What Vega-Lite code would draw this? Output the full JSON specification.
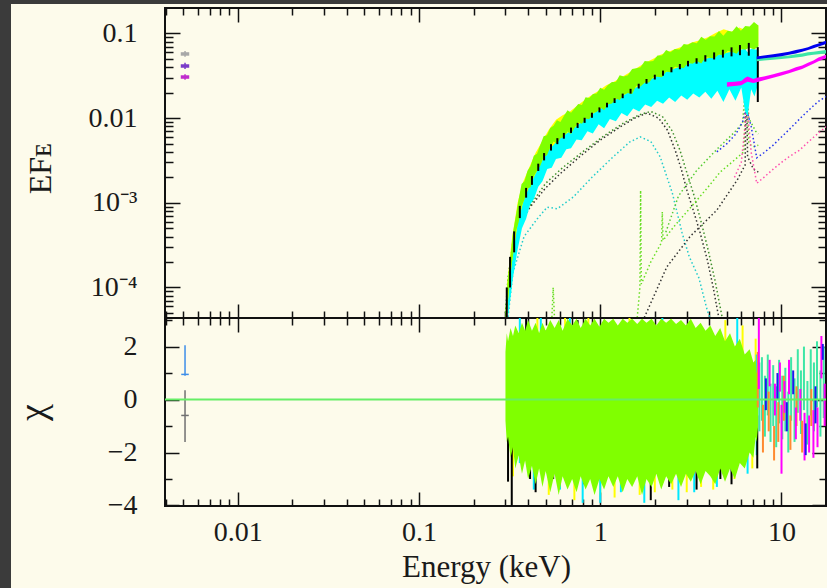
{
"$schema": "https://vega.github.io/schema/vega-lite/v6.json",
"padding": 0,
"background": "#fdfbeb",
"autosize": {"type": "pad"},
"datasets": {
"mA": [{"e":0.30,"y":0.00004},{"e":0.31,"y":0.00011},{"e":0.33,"y":0.0003},{"e":0.36,"y":0.00055},{"e":0.41,"y":0.00089},{"e":0.5,"y":0.0015},{"e":0.6,"y":0.0022},{"e":0.77,"y":0.0035},{"e":1.0,"y":0.0055},{"e":1.29,"y":0.0079},{"e":1.55,"y":0.01},{"e":1.81,"y":0.0115},{"e":2.1,"y":0.0100},{"e":2.35,"y":0.0072},{"e":2.59,"y":0.0042},{"e":2.8,"y":0.0025},{"e":3.01,"y":0.0014},{"e":3.3,"y":0.00075},{"e":3.55,"y":0.00045},{"e":3.9,"y":0.00021},{"e":4.2,"y":0.0001},{"e":4.5,"y":0.000045}],
"mC": [{"e":0.31,"y":0.000045},{"e":0.33,"y":0.00015},{"e":0.38,"y":0.0004},{"e":0.45,"y":0.00065},{"e":0.51,"y":0.00089},{"e":0.58,"y":0.00085},{"e":0.71,"y":0.00117},{"e":0.9,"y":0.002},{"e":1.18,"y":0.0035},{"e":1.45,"y":0.0052},{"e":1.66,"y":0.006},{"e":1.9,"y":0.0053},{"e":2.14,"y":0.0035},{"e":2.5,"y":0.0013},{"e":2.83,"y":0.00044},{"e":3.1,"y":0.00023},{"e":3.5,"y":0.00013},{"e":3.9,"y":0.000053},{"e":4.1,"y":0.00004}],
"mods": [
{"s":"Ag","e":0.30,"y":0.00005},{"s":"Ag","e":0.31,"y":0.00013},{"s":"Ag","e":0.33,"y":0.00035},{"s":"Ag","e":0.37,"y":0.00065},{"s":"Ag","e":0.42,"y":0.001},{"s":"Ag","e":0.5,"y":0.0017},{"s":"Ag","e":0.62,"y":0.0026},{"s":"Ag","e":0.8,"y":0.004},{"s":"Ag","e":1.05,"y":0.0062},{"s":"Ag","e":1.35,"y":0.0088},{"s":"Ag","e":1.65,"y":0.011},{"s":"Ag","e":1.9,"y":0.012},{"s":"Ag","e":2.2,"y":0.0105},{"s":"Ag","e":2.5,"y":0.007},{"s":"Ag","e":2.75,"y":0.0042},{"s":"Ag","e":3.0,"y":0.0023},{"s":"Ag","e":3.3,"y":0.0012},{"s":"Ag","e":3.6,"y":0.0006},{"s":"Ag","e":3.95,"y":0.00027},{"s":"Ag","e":4.3,"y":0.00012},{"s":"Ag","e":4.7,"y":0.000045},
{"s":"Ph","e":1.6,"y":0.000044},{"s":"Ph","e":1.655,"y":0.0001},{"s":"Ph","e":1.67,"y":0.0014},{"s":"Ph","e":1.685,"y":0.00011},{"s":"Ph","e":1.9,"y":0.0002},{"s":"Ph","e":2.18,"y":0.00034},{"s":"Ph","e":2.2,"y":0.00078},{"s":"Ph","e":2.22,"y":0.00036},{"s":"Ph","e":2.6,"y":0.00055},{"s":"Ph","e":3.25,"y":0.00095},{"s":"Ph","e":4.0,"y":0.0016},{"s":"Ph","e":4.58,"y":0.0023},{"s":"Ph","e":5.5,"y":0.0032},{"s":"Ph","e":6.2,"y":0.004},{"s":"Ph","e":6.4,"y":0.03},{"s":"Ph","e":6.6,"y":0.005},{"s":"Ph","e":7.0,"y":0.0046},{"s":"Ph","e":7.45,"y":0.0048},
{"s":"Pl","e":1.75,"y":0.000044},{"s":"Pl","e":2.33,"y":0.000175},{"s":"Pl","e":3.13,"y":0.0004},{"s":"Pl","e":4.4,"y":0.00082},{"s":"Pl","e":5.7,"y":0.00186},{"s":"Pl","e":6.3,"y":0.0028},{"s":"Pl","e":6.4,"y":0.028},{"s":"Pl","e":6.5,"y":0.0035},{"s":"Pl","e":7.0,"y":0.0025},{"s":"Pl","e":7.45,"y":0.0023},
{"s":"Pm","e":2.3,"y":0.00045},{"s":"Pm","e":2.7,"y":0.0012},{"s":"Pm","e":3.4,"y":0.0024},{"s":"Pm","e":4.5,"y":0.0045},{"s":"Pm","e":5.5,"y":0.0068},{"s":"Pm","e":6.1,"y":0.0088},{"s":"Pm","e":6.4,"y":0.03},{"s":"Pm","e":6.6,"y":0.01},{"s":"Pm","e":7.2,"y":0.007},{"s":"Pm","e":7.45,"y":0.0065},
{"s":"sp","e":0.54,"y":0.00004},{"s":"sp","e":0.55,"y":0.0001},{"s":"sp","e":0.56,"y":0.00004},
{"s":"B","e":4.4,"y":0.004},{"s":"B","e":5.0,"y":0.005},{"s":"B","e":5.6,"y":0.0065},{"s":"B","e":6.1,"y":0.009},{"s":"B","e":6.4,"y":0.013},{"s":"B","e":6.8,"y":0.008},{"s":"B","e":7.3,"y":0.0034},{"s":"B","e":8,"y":0.0039},{"s":"B","e":9,"y":0.0048},{"s":"B","e":10,"y":0.006},{"s":"B","e":11,"y":0.0073},{"s":"B","e":12,"y":0.0088},{"s":"B","e":13,"y":0.0105},{"s":"B","e":14,"y":0.0122},{"s":"B","e":15,"y":0.014},{"s":"B","e":16,"y":0.0158},{"s":"B","e":17.6,"y":0.018},
{"s":"M","e":5.5,"y":0.002},{"s":"M","e":6.0,"y":0.003},{"s":"M","e":6.3,"y":0.008},{"s":"M","e":6.4,"y":0.03},{"s":"M","e":6.5,"y":0.012},{"s":"M","e":6.8,"y":0.004},{"s":"M","e":7.3,"y":0.0017},{"s":"M","e":8,"y":0.002},{"s":"M","e":9,"y":0.0025},{"s":"M","e":10,"y":0.003},{"s":"M","e":11,"y":0.0035},{"s":"M","e":12.6,"y":0.0042},{"s":"M","e":14,"y":0.0052},{"s":"M","e":15.5,"y":0.0063},{"s":"M","e":17.6,"y":0.0079}],
"cT": [{"e":0.31,"y":0.000044,"y2":0.00009},{"e":0.33,"y":0.00013,"y2":0.00027},{"e":0.35,"y":0.00028,"y2":0.0006},{"e":0.37,"y":0.0005,"y2":0.00098},{"e":0.39,"y":0.00065,"y2":0.00135},{"e":0.41,"y":0.00095,"y2":0.0018},{"e":0.43,"y":0.0011,"y2":0.0022},{"e":0.455,"y":0.00155,"y2":0.0027},{"e":0.48,"y":0.0018,"y2":0.0035},{"e":0.51,"y":0.0025,"y2":0.0042},{"e":0.54,"y":0.0026,"y2":0.0048},{"e":0.57,"y":0.0033,"y2":0.0057},{"e":0.61,"y":0.0034,"y2":0.0063},{"e":0.65,"y":0.0043,"y2":0.0072},{"e":0.69,"y":0.0044,"y2":0.0079},{"e":0.74,"y":0.0056,"y2":0.0088},{"e":0.79,"y":0.0055,"y2":0.0099},{"e":0.85,"y":0.007,"y2":0.0112},{"e":0.91,"y":0.0066,"y2":0.0123},{"e":0.98,"y":0.0085,"y2":0.014},{"e":1.05,"y":0.0076,"y2":0.015},{"e":1.13,"y":0.0098,"y2":0.017},{"e":1.22,"y":0.0092,"y2":0.018},{"e":1.31,"y":0.0115,"y2":0.0195},{"e":1.41,"y":0.0105,"y2":0.0215},{"e":1.52,"y":0.013,"y2":0.0235},{"e":1.64,"y":0.012,"y2":0.026},{"e":1.77,"y":0.0145,"y2":0.0285},{"e":1.91,"y":0.0135,"y2":0.031},{"e":2.06,"y":0.016,"y2":0.0335},{"e":2.22,"y":0.0148,"y2":0.036},{"e":2.4,"y":0.0175,"y2":0.039},{"e":2.59,"y":0.0155,"y2":0.0415},{"e":2.8,"y":0.0185,"y2":0.044},{"e":3.02,"y":0.0165,"y2":0.0465},{"e":3.26,"y":0.0195,"y2":0.049},{"e":3.52,"y":0.0175,"y2":0.0515},{"e":3.8,"y":0.0205,"y2":0.054},{"e":4.1,"y":0.017,"y2":0.056},{"e":4.43,"y":0.021,"y2":0.058},{"e":4.78,"y":0.0155,"y2":0.06},{"e":5.16,"y":0.022,"y2":0.062},{"e":5.57,"y":0.016,"y2":0.064},{"e":6.0,"y":0.023,"y2":0.065},{"e":6.3,"y":0.012,"y2":0.066},{"e":6.5,"y":0.0105,"y2":0.06},{"e":6.8,"y":0.022,"y2":0.066},{"e":7.1,"y":0.018,"y2":0.065},{"e":7.45,"y":0.026,"y2":0.064}],
"yT": [{"e":0.305,"y":0.00005,"y2":0.0001},{"e":0.325,"y":0.00019,"y2":0.00036},{"e":0.35,"y":0.00056,"y2":0.001},{"e":0.375,"y":0.001,"y2":0.00175},{"e":0.405,"y":0.00155,"y2":0.0026},{"e":0.44,"y":0.0022,"y2":0.0039},{"e":0.48,"y":0.0032,"y2":0.0054},{"e":0.52,"y":0.0042,"y2":0.0073},{"e":0.57,"y":0.0052,"y2":0.0096},{"e":0.62,"y":0.0061,"y2":0.0108},{"e":0.68,"y":0.007,"y2":0.012},{"e":0.74,"y":0.0081,"y2":0.0138},{"e":0.81,"y":0.0094,"y2":0.016},{"e":0.89,"y":0.0109,"y2":0.0185},{"e":0.98,"y":0.0125,"y2":0.021},{"e":1.08,"y":0.0142,"y2":0.0245},{"e":1.19,"y":0.016,"y2":0.027},{"e":1.31,"y":0.018,"y2":0.0305},{"e":1.45,"y":0.0205,"y2":0.0345},{"e":1.6,"y":0.0235,"y2":0.0395},{"e":1.77,"y":0.0265,"y2":0.045},{"e":1.95,"y":0.0295,"y2":0.05},{"e":2.15,"y":0.033,"y2":0.056},{"e":2.38,"y":0.036,"y2":0.061},{"e":2.62,"y":0.039,"y2":0.066},{"e":2.9,"y":0.042,"y2":0.071},{"e":3.2,"y":0.045,"y2":0.078},{"e":3.55,"y":0.048,"y2":0.083},{"e":3.92,"y":0.051,"y2":0.09},{"e":4.35,"y":0.055,"y2":0.102},{"e":4.8,"y":0.058,"y2":0.112},{"e":5.3,"y":0.061,"y2":0.105},{"e":5.85,"y":0.064,"y2":0.118},{"e":6.45,"y":0.067,"y2":0.108},{"e":7.0,"y":0.069,"y2":0.13},{"e":7.45,"y":0.071,"y2":0.125}],
"gT": [{"e":0.300,"y":0.0000351,"y2":0.0000576},{"e":0.310,"y":0.000072,"y2":0.000135},{"e":0.320,"y":0.000152,"y2":0.000232},{"e":0.330,"y":0.00024,"y2":0.000448},{"e":0.342,"y":0.000451,"y2":0.000688},{"e":0.355,"y":0.000595,"y2":0.00111},{"e":0.368,"y":0.000909,"y2":0.00167},{"e":0.382,"y":0.0011,"y2":0.0018},{"e":0.397,"y":0.00149,"y2":0.00239},{"e":0.413,"y":0.00153,"y2":0.00273},{"e":0.430,"y":0.00208,"y2":0.00359},{"e":0.448,"y":0.00239,"y2":0.00381},{"e":0.467,"y":0.00274,"y2":0.00481},{"e":0.487,"y":0.00348,"y2":0.00611},{"e":0.508,"y":0.00365,"y2":0.0063},{"e":0.530,"y":0.0045,"y2":0.00764},{"e":0.553,"y":0.00529,"y2":0.00813},{"e":0.577,"y":0.00497,"y2":0.00945},{"e":0.603,"y":0.00577,"y2":0.00903},{"e":0.630,"y":0.006,"y2":0.0106},{"e":0.660,"y":0.00697,"y2":0.0124},{"e":0.690,"y":0.00651,"y2":0.0116},{"e":0.722,"y":0.0077,"y2":0.013},{"e":0.756,"y":0.00896,"y2":0.0147},{"e":0.792,"y":0.00858,"y2":0.0143},{"e":0.830,"y":0.00988,"y2":0.0176},{"e":0.870,"y":0.00972,"y2":0.0173},{"e":0.912,"y":0.0116,"y2":0.0193},{"e":0.956,"y":0.0118,"y2":0.0195},{"e":1.00,"y":0.0135,"y2":0.0229},{"e":1.05,"y":0.0124,"y2":0.0217},{"e":1.10,"y":0.0145,"y2":0.0244},{"e":1.16,"y":0.0149,"y2":0.0267},{"e":1.22,"y":0.0171,"y2":0.0268},{"e":1.28,"y":0.0164,"y2":0.0322},{"e":1.35,"y":0.019,"y2":0.031},{"e":1.42,"y":0.0198,"y2":0.0321},{"e":1.50,"y":0.0193,"y2":0.038},{"e":1.58,"y":0.0242,"y2":0.0389},{"e":1.67,"y":0.0237,"y2":0.0398},{"e":1.76,"y":0.0264,"y2":0.0473},{"e":1.86,"y":0.0263,"y2":0.0468},{"e":1.96,"y":0.0306,"y2":0.0474},{"e":2.07,"y":0.0308,"y2":0.0551},{"e":2.19,"y":0.0304,"y2":0.0548},{"e":2.31,"y":0.0356,"y2":0.0639},{"e":2.44,"y":0.0349,"y2":0.0599},{"e":2.58,"y":0.0406,"y2":0.0658},{"e":2.73,"y":0.0398,"y2":0.0646},{"e":2.89,"y":0.0389,"y2":0.0751},{"e":3.05,"y":0.045,"y2":0.0736},{"e":3.23,"y":0.0439,"y2":0.079},{"e":3.41,"y":0.0473,"y2":0.0765},{"e":3.61,"y":0.0441,"y2":0.0914},{"e":3.82,"y":0.0528,"y2":0.0841},{"e":4.04,"y":0.0513,"y2":0.0925},{"e":4.27,"y":0.0509,"y2":0.092},{"e":4.52,"y":0.0569,"y2":0.107},{"e":4.78,"y":0.0549,"y2":0.0942},{"e":5.05,"y":0.0627,"y2":0.108},{"e":5.34,"y":0.0606,"y2":0.105},{"e":5.65,"y":0.0575,"y2":0.122},{"e":5.97,"y":0.0666,"y2":0.108},{"e":6.31,"y":0.0641,"y2":0.123},{"e":6.67,"y":0.0684,"y2":0.121},{"e":7.05,"y":0.0648,"y2":0.137},{"e":7.45,"y":0.0699,"y2":0.124}],
"kT": [{"e":0.305,"y":0.000044,"y2":0.0001},{"e":0.318,"y":0.0001,"y2":0.00023},{"e":0.335,"y":0.00026,"y2":0.00046},{"e":0.36,"y":0.00066,"y2":0.00092},{"e":0.39,"y":0.00115,"y2":0.0015},{"e":0.42,"y":0.00163,"y2":0.00207},{"e":0.455,"y":0.00238,"y2":0.0029},{"e":0.49,"y":0.00317,"y2":0.00387},{"e":0.535,"y":0.00414,"y2":0.00493},{"e":0.58,"y":0.00493,"y2":0.0058},{"e":0.63,"y":0.00572,"y2":0.00669},{"e":0.69,"y":0.00669,"y2":0.00774},{"e":0.75,"y":0.00766,"y2":0.0088},{"e":0.82,"y":0.0088,"y2":0.0101},{"e":0.9,"y":0.0101,"y2":0.0116},{"e":0.99,"y":0.0117,"y2":0.0134},{"e":1.09,"y":0.0134,"y2":0.0152},{"e":1.2,"y":0.0151,"y2":0.0172},{"e":1.33,"y":0.0172,"y2":0.0195},{"e":1.47,"y":0.0195,"y2":0.0222},{"e":1.63,"y":0.0224,"y2":0.0255},{"e":1.8,"y":0.0255,"y2":0.029},{"e":2.0,"y":0.0286,"y2":0.0326},{"e":2.22,"y":0.0317,"y2":0.0365},{"e":2.47,"y":0.0348,"y2":0.04},{"e":2.75,"y":0.0378,"y2":0.0436},{"e":3.05,"y":0.0409,"y2":0.0475},{"e":3.4,"y":0.044,"y2":0.051},{"e":3.8,"y":0.0466,"y2":0.0554},{"e":4.25,"y":0.0493,"y2":0.0598},{"e":4.75,"y":0.0519,"y2":0.0642},{"e":5.3,"y":0.0537,"y2":0.0686},{"e":5.9,"y":0.0554,"y2":0.073},{"e":6.6,"y":0.0546,"y2":0.0774},{"e":7.4,"y":0.0155,"y2":0.069}],
"bT": [{"e":7.3,"y":0.0495,"y2":0.0535},{"e":8,"y":0.051,"y2":0.055},{"e":9,"y":0.0525,"y2":0.057},{"e":10,"y":0.054,"y2":0.059},{"e":11,"y":0.056,"y2":0.061},{"e":12,"y":0.058,"y2":0.064},{"e":13,"y":0.061,"y2":0.066},{"e":14,"y":0.064,"y2":0.069},{"e":15,"y":0.067,"y2":0.073},{"e":16,"y":0.07,"y2":0.076},{"e":17,"y":0.073,"y2":0.08},{"e":17.6,"y":0.075,"y2":0.082}],
"tT": [{"e":7.3,"y":0.047,"y2":0.051},{"e":8,"y":0.048,"y2":0.052},{"e":9,"y":0.049,"y2":0.053},{"e":10,"y":0.05,"y2":0.054},{"e":11,"y":0.051,"y2":0.055},{"e":12,"y":0.052,"y2":0.057},{"e":13,"y":0.053,"y2":0.058},{"e":14,"y":0.055,"y2":0.06},{"e":15,"y":0.056,"y2":0.061},{"e":16,"y":0.057,"y2":0.062},{"e":17.6,"y":0.058,"y2":0.064}],
"mT": [{"e":5.0,"y":0.0235,"y2":0.0265},{"e":5.5,"y":0.024,"y2":0.027},{"e":6.0,"y":0.0245,"y2":0.0275},{"e":6.3,"y":0.026,"y2":0.03},{"e":6.5,"y":0.027,"y2":0.031},{"e":7.0,"y":0.026,"y2":0.029},{"e":7.3,"y":0.0265,"y2":0.03},{"e":8,"y":0.028,"y2":0.031},{"e":9,"y":0.03,"y2":0.033},{"e":10,"y":0.032,"y2":0.035},{"e":11,"y":0.034,"y2":0.037},{"e":12,"y":0.036,"y2":0.04},{"e":13,"y":0.038,"y2":0.042},{"e":14,"y":0.041,"y2":0.045},{"e":15,"y":0.044,"y2":0.048},{"e":16,"y":0.047,"y2":0.052},{"e":17.6,"y":0.051,"y2":0.056}],
"uvT": [{"s":"W1","e":0.00485,"e2":0.0054,"y":0.0573},{"s":"M2","e":0.00485,"e2":0.0054,"y":0.0413},{"s":"W2","e":0.00485,"e2":0.0054,"y":0.0306}],
"uvTv": [{"s":"W1","e":0.00512,"y":0.053,"y2":0.062},{"s":"M2","e":0.00512,"y":0.038,"y2":0.045},{"s":"W2","e":0.00512,"y":0.0285,"y2":0.033}],
"gR": [{"e":0.30,"y":-0.8,"y2":1.8},{"e":0.305,"y":-1.6,"y2":2.5},{"e":0.31,"y":-1.4,"y2":2.2},{"e":0.32,"y":-2.2,"y2":2.7},{"e":0.33,"y":-1.8,"y2":2.4},{"e":0.34,"y":-2.6,"y2":2.8},{"e":0.355,"y":-2.1,"y2":2.5},{"e":0.37,"y":-2.8,"y2":2.9},{"e":0.385,"y":-2.3,"y2":2.6},{"e":0.40,"y":-3.0,"y2":3.0},{"e":0.42,"y":-2.5,"y2":2.6},{"e":0.44,"y":-3.2,"y2":2.9},{"e":0.46,"y":-2.6,"y2":2.5},{"e":0.48,"y":-3.3,"y2":2.9},{"e":0.50,"y":-2.7,"y2":2.6},{"e":0.53,"y":-3.5,"y2":3.0},{"e":0.56,"y":-2.8,"y2":2.7},{"e":0.59,"y":-3.6,"y2":3.0},{"e":0.62,"y":-2.9,"y2":2.6},{"e":0.66,"y":-3.4,"y2":3.05},{"e":0.70,"y":-3.0,"y2":2.8},{"e":0.74,"y":-3.5,"y2":3.05},{"e":0.78,"y":-2.9,"y2":2.7},{"e":0.83,"y":-3.4,"y2":3.05},{"e":0.88,"y":-3.0,"y2":2.8},{"e":0.93,"y":-3.6,"y2":3.05},{"e":0.99,"y":-3.0,"y2":2.75},{"e":1.05,"y":-3.4,"y2":3.05},{"e":1.11,"y":-2.9,"y2":2.9},{"e":1.18,"y":-3.3,"y2":3.05},{"e":1.25,"y":-2.9,"y2":2.8},{"e":1.33,"y":-3.5,"y2":3.05},{"e":1.41,"y":-3.0,"y2":2.9},{"e":1.50,"y":-3.3,"y2":3.05},{"e":1.60,"y":-2.9,"y2":2.85},{"e":1.70,"y":-3.6,"y2":3.05},{"e":1.80,"y":-3.0,"y2":2.9},{"e":1.92,"y":-3.3,"y2":3.05},{"e":2.04,"y":-2.8,"y2":2.8},{"e":2.17,"y":-3.4,"y2":3.05},{"e":2.31,"y":-2.9,"y2":2.9},{"e":2.46,"y":-3.2,"y2":3.05},{"e":2.62,"y":-2.8,"y2":2.85},{"e":2.79,"y":-3.3,"y2":3.0},{"e":2.97,"y":-2.8,"y2":2.8},{"e":3.16,"y":-3.1,"y2":3.05},{"e":3.36,"y":-2.7,"y2":2.7},{"e":3.58,"y":-3.2,"y2":2.9},{"e":3.81,"y":-2.7,"y2":2.6},{"e":4.05,"y":-2.9,"y2":2.8},{"e":4.31,"y":-3.2,"y2":2.4},{"e":4.59,"y":-2.6,"y2":2.7},{"e":4.88,"y":-3.1,"y2":2.2},{"e":5.2,"y":-2.6,"y2":2.5},{"e":5.53,"y":-3.0,"y2":2.0},{"e":5.89,"y":-2.4,"y2":2.3},{"e":6.27,"y":-2.6,"y2":1.7},{"e":6.67,"y":-2.0,"y2":1.9},{"e":7.0,"y":-2.2,"y2":1.4},{"e":7.2,"y":-1.4,"y2":1.5},{"e":7.3,"y":-1.6,"y2":1.0},{"e":7.45,"y":-0.9,"y2":1.1}],
"yR": [{"e":0.33,"y":-2.9,"y2":0.5},{"e":0.45,"y":0.2,"y2":3.1},{"e":0.52,"y":-3.6,"y2":-1.0},{"e":0.64,"y":-1.5,"y2":3.1},{"e":0.72,"y":-3.8,"y2":-1.5},{"e":0.86,"y":0.5,"y2":3.1},{"e":1.0,"y":-3.6,"y2":-0.8},{"e":1.2,"y":-3.7,"y2":-1.2},{"e":1.45,"y":0.5,"y2":3.1},{"e":1.65,"y":-3.6,"y2":-1.0},{"e":2.0,"y":-3.5,"y2":-1.0},{"e":2.5,"y":-3.4,"y2":-0.5},{"e":3.0,"y":-3.5,"y2":-1.2},{"e":3.6,"y":-3.3,"y2":-0.8},{"e":4.2,"y":-3.4,"y2":-1.0},{"e":4.9,"y":0.5,"y2":3.0},{"e":5.5,"y":-3.0,"y2":-0.5},{"e":6.1,"y":0.2,"y2":2.8},{"e":6.9,"y":-2.6,"y2":0.3},{"e":7.2,"y":0.1,"y2":2.3}],
"cR": [{"e":0.36,"y":-2.4,"y2":3.1},{"e":0.43,"y":-3.4,"y2":-0.5},{"e":0.47,"y":0.8,"y2":3.1},{"e":0.6,"y":-3.4,"y2":-0.8},{"e":0.68,"y":0.4,"y2":3.1},{"e":0.8,"y":-3.9,"y2":-1.2},{"e":0.92,"y":-3.2,"y2":-0.2},{"e":1.0,"y":-3.9,"y2":-1.0},{"e":1.3,"y":-3.5,"y2":-0.6},{"e":1.75,"y":-3.9,"y2":-1.2},{"e":2.2,"y":0.5,"y2":3.1},{"e":2.7,"y":-3.8,"y2":-1.0},{"e":3.3,"y":-3.5,"y2":-0.8},{"e":4.4,"y":-3.3,"y2":-0.6},{"e":5.7,"y":0.6,"y2":3.1},{"e":6.5,"y":-2.8,"y2":-0.2},{"e":7.3,"y":-2.1,"y2":1.7}],
"kR": [{"e":0.31,"y":-3.1,"y2":-0.2},{"e":0.325,"y":-4.0,"y2":-1.0},{"e":0.34,"y":0.4,"y2":2.4},{"e":0.37,"y":-2.6,"y2":-0.6},{"e":0.39,"y":0.8,"y2":3.1},{"e":0.41,"y":-3.0,"y2":-1.2},{"e":0.44,"y":-3.5,"y2":-1.6},{"e":0.5,"y":0.5,"y2":2.6},{"e":0.55,"y":-3.0,"y2":-1.0},{"e":0.62,"y":-2.6,"y2":-0.6},{"e":0.75,"y":1.0,"y2":3.0},{"e":0.82,"y":-3.2,"y2":-1.2},{"e":0.98,"y":0.5,"y2":2.5},{"e":1.35,"y":-3.0,"y2":-1.2},{"e":1.9,"y":-3.8,"y2":-1.8},{"e":2.4,"y":-3.3,"y2":-1.3},{"e":3.0,"y":0.8,"y2":2.8},{"e":3.4,"y":-3.4,"y2":-1.4},{"e":4.6,"y":-3.0,"y2":-1.0},{"e":5.3,"y":-3.2,"y2":-1.2},{"e":6.4,"y":-2.0,"y2":0.4},{"e":7.35,"y":-2.6,"y2":-0.6}],
"hR": [{"s":"T","e":7.55,"y":-1.2,"y2":1.4},{"s":"T","e":7.8,"y":-0.8,"y2":1.6},{"s":"T","e":8.1,"y":-1.4,"y2":0.9},{"s":"T","e":8.4,"y":-0.6,"y2":1.7},{"s":"T","e":8.7,"y":-1.6,"y2":0.6},{"s":"T","e":9.0,"y":-1.0,"y2":1.3},{"s":"T","e":9.35,"y":-1.8,"y2":0.5},{"s":"T","e":9.7,"y":-0.9,"y2":1.5},{"s":"T","e":10.1,"y":-1.5,"y2":0.9},{"s":"T","e":10.5,"y":-1.2,"y2":1.2},{"s":"T","e":10.9,"y":-2.0,"y2":0.3},{"s":"T","e":11.3,"y":-0.8,"y2":1.6},{"s":"T","e":11.8,"y":-1.6,"y2":0.8},{"s":"T","e":12.3,"y":-0.5,"y2":1.9},{"s":"T","e":12.8,"y":-1.3,"y2":1.1},{"s":"T","e":13.3,"y":-0.4,"y2":2.0},{"s":"T","e":13.9,"y":-1.7,"y2":0.7},{"s":"T","e":14.5,"y":-0.6,"y2":1.9},{"s":"T","e":15.1,"y":-1.2,"y2":1.4},{"s":"T","e":15.7,"y":-0.3,"y2":2.2},{"s":"T","e":16.4,"y":-1.4,"y2":1.1},{"s":"T","e":17.1,"y":-0.7,"y2":2.0},
{"s":"O","e":7.4,"y":-0.3,"y2":1.8},{"s":"O","e":7.9,"y":-2.0,"y2":-0.2},{"s":"O","e":8.5,"y":-1.2,"y2":0.3},{"s":"O","e":9.1,"y":-2.3,"y2":-1.0},{"s":"O","e":9.6,"y":-1.6,"y2":-0.1},{"s":"O","e":10.3,"y":-0.8,"y2":0.9},{"s":"O","e":11.2,"y":-1.9,"y2":-0.6},{"s":"O","e":12.1,"y":-1.0,"y2":0.5},{"s":"O","e":13.0,"y":-2.0,"y2":-0.8},{"s":"O","e":14.6,"y":-1.0,"y2":0.4},
{"s":"M","e":7.5,"y":0.4,"y2":3.1},{"s":"M","e":8.6,"y":0.5,"y2":1.5},{"s":"M","e":9.2,"y":-0.6,"y2":0.6},{"s":"M","e":9.8,"y":0.3,"y2":1.4},{"s":"M","e":10.0,"y":-2.8,"y2":-0.2},{"s":"M","e":10.4,"y":-0.5,"y2":0.7},{"s":"M","e":11.0,"y":0.2,"y2":1.5},{"s":"M","e":12.0,"y":-1.5,"y2":-0.3},{"s":"M","e":12.7,"y":-0.8,"y2":0.4},{"s":"M","e":13.4,"y":-2.3,"y2":-0.5},{"s":"M","e":14.2,"y":-2.0,"y2":-0.6},{"s":"M","e":15.0,"y":-2.2,"y2":-0.4},{"s":"M","e":15.8,"y":-1.8,"y2":-0.3},{"s":"M","e":16.6,"y":0.8,"y2":2.4},{"s":"M","e":17.3,"y":-1.0,"y2":0.6},
{"s":"B","e":8.2,"y":-0.4,"y2":0.8},{"s":"B","e":9.5,"y":0.0,"y2":1.0},{"s":"B","e":10.7,"y":-1.2,"y2":-0.1},{"s":"B","e":11.6,"y":0.2,"y2":1.1},{"s":"B","e":13.6,"y":-2.1,"y2":-0.9},{"s":"B","e":15.4,"y":-0.9,"y2":0.5},{"s":"B","e":16.9,"y":1.5,"y2":2.1}],
"uvR": [{"s":"U1","e":0.00512,"y":0.9,"y2":2.05},{"s":"U2","e":0.00512,"y":-1.6,"y2":0.35}],
"uvRc": [{"s":"U1","e":0.00488,"e2":0.00537,"y":0.95},{"s":"U2","e":0.00488,"e2":0.00537,"y":-0.6}],
"z": [{"e":0.00397,"y":0},{"e":17.6,"y":0}]
},
"hconcat": [
 {"width": 11, "height": 588, "view": {"fill": "#3b3b3b", "stroke": null}, "data": {"values": []}, "mark": "point"},
 {"vconcat": [
   {"width": 816, "height": 4, "view": {"fill": "#3b3b3b", "stroke": null}, "data": {"values": []}, "mark": "point"},
   {"hconcat": [
     {"width": 154, "height": 498, "view": {"stroke": null}, "data": {"values": []}, "mark": "point"},
     {"vconcat": [
       {"width": 661, "height": 310,
        "encoding": {
          "x": {"field": "e", "type": "quantitative", "scale": {"type": "log", "domain": [0.00397, 17.6], "nice": false}, "axis": null},
          "y": {"field": "y", "type": "quantitative", "scale": {"type": "log", "domain": [0.0000436, 0.2], "nice": false}, "axis": null}
        },
        "layer": [
          {"data": {"name": "mA"}, "mark": {"type": "line", "strokeDash": [1.5, 2.5], "strokeWidth": 1.5, "color": "#333333", "clip": true},
           "encoding": {
             "x": {"field": "e", "type": "quantitative", "scale": {"type": "log", "domain": [0.00397, 17.6], "nice": false},
                   "axis": {"orient": "bottom", "values": [0.004,0.005,0.006,0.007,0.008,0.009,0.01,0.02,0.03,0.04,0.05,0.06,0.07,0.08,0.09,0.1,0.2,0.3,0.4,0.5,0.6,0.7,0.8,0.9,1,2,3,4,5,6,7,8,9,10], "labels": false, "title": null,
                            "tickSize": {"condition": {"test": "abs(log(datum.value)/LN10 - round(log(datum.value)/LN10)) < 0.001", "value": -14}, "value": -7}}},
             "y": {"field": "y", "type": "quantitative", "scale": {"type": "log", "domain": [0.0000436, 0.2], "nice": false},
                   "axis": {"orient": "left", "values": [0.00005,0.00006,0.00007,0.00008,0.00009,0.0001,0.0002,0.0003,0.0004,0.0005,0.0006,0.0007,0.0008,0.0009,0.001,0.002,0.003,0.004,0.005,0.006,0.007,0.008,0.009,0.01,0.02,0.03,0.04,0.05,0.06,0.07,0.08,0.09,0.1],
                            "labelExpr": "datum.value == 0.1 ? '0.1' : datum.value == 0.01 ? '0.01' : datum.value == 0.001 ? '10⁻³' : datum.value == 0.0001 ? '10⁻⁴' : ''",
                            "tickSize": {"condition": {"test": "abs(log(datum.value)/LN10 - round(log(datum.value)/LN10)) < 0.001", "value": -15}, "value": -8},
                            "labelPadding": 43, "labelBaseline": "middle",
                            "title": "EFᴇ", "titleFontSize": 32, "titleAngle": 270, "titleX": -125, "titleY": 160, "titleAlign": "center", "titleBaseline": "middle"}}
           }},
          {"data": {"name": "mC"}, "mark": {"type": "line", "strokeDash": [1.5, 2.5], "strokeWidth": 1.5, "color": "#22cccc", "clip": true},
           "encoding": {
             "x": {"field": "e", "type": "quantitative", "scale": {"type": "log", "domain": [0.00397, 17.6], "nice": false},
                   "axis": {"orient": "top", "values": [0.004,0.005,0.006,0.007,0.008,0.009,0.01,0.02,0.03,0.04,0.05,0.06,0.07,0.08,0.09,0.1,0.2,0.3,0.4,0.5,0.6,0.7,0.8,0.9,1,2,3,4,5,6,7,8,9,10], "labels": false, "title": null,
                            "tickSize": {"condition": {"test": "abs(log(datum.value)/LN10 - round(log(datum.value)/LN10)) < 0.001", "value": -14}, "value": -7}}},
             "y": {"field": "y", "type": "quantitative", "scale": {"type": "log", "domain": [0.0000436, 0.2], "nice": false},
                   "axis": {"orient": "right", "values": [0.00005,0.00006,0.00007,0.00008,0.00009,0.0001,0.0002,0.0003,0.0004,0.0005,0.0006,0.0007,0.0008,0.0009,0.001,0.002,0.003,0.004,0.005,0.006,0.007,0.008,0.009,0.01,0.02,0.03,0.04,0.05,0.06,0.07,0.08,0.09,0.1], "labels": false, "title": null,
                            "tickSize": {"condition": {"test": "abs(log(datum.value)/LN10 - round(log(datum.value)/LN10)) < 0.001", "value": -15}, "value": -8}}}
           }},
          {"data": {"name": "mods"}, "mark": {"type": "line", "strokeDash": [1.5, 2.5], "strokeWidth": 1.5, "clip": true},
           "encoding": {"color": {"field": "s", "type": "nominal", "legend": null, "scale": {"domain": ["Ag","Ph","Pl","Pm","sp","B","M"], "range": ["#3d8f2a","#66dd22","#333333","#55cc33","#66dd22","#2233ee","#ff50b0"]}}}},
          {"data": {"name": "cT"}, "mark": {"type": "area", "color": "#00ffff", "clip": true}, "encoding": {"y2": {"field": "y2"}}},
          {"data": {"name": "yT"}, "mark": {"type": "area", "color": "#ffff00", "clip": true}, "encoding": {"y2": {"field": "y2"}}},
          {"data": {"name": "gT"}, "mark": {"type": "area", "color": "#80ff00", "clip": true}, "encoding": {"y2": {"field": "y2"}}},
          {"data": {"name": "kT"}, "mark": {"type": "rule", "color": "#000000", "strokeWidth": 2, "clip": true}, "encoding": {"y2": {"field": "y2"}}},
          {"data": {"name": "mT"}, "mark": {"type": "area", "color": "#ff00ff", "clip": true}, "encoding": {"y2": {"field": "y2"}}},
          {"data": {"name": "tT"}, "mark": {"type": "area", "color": "#3ee6a6", "clip": true}, "encoding": {"y2": {"field": "y2"}}},
          {"data": {"name": "bT"}, "mark": {"type": "area", "color": "#0000ee", "clip": true}, "encoding": {"y2": {"field": "y2"}}},
          {"data": {"name": "uvT"}, "mark": {"type": "rule", "strokeWidth": 3.5, "clip": true},
           "encoding": {"x2": {"field": "e2"}, "color": {"field": "s", "type": "nominal", "legend": null, "scale": {"domain": ["W1","M2","W2"], "range": ["#a8a8a8","#7a3cc8","#c02ccc"]}}}},
          {"data": {"name": "uvTv"}, "mark": {"type": "rule", "strokeWidth": 1.5, "clip": true},
           "encoding": {"y2": {"field": "y2"}, "color": {"field": "s", "type": "nominal", "legend": null, "scale": {"domain": ["W1","M2","W2"], "range": ["#a8a8a8","#7a3cc8","#c02ccc"]}}}}
        ],
        "resolve": {"axis": {"x": "independent", "y": "independent"}, "scale": {"color": "independent"}}
       },
       {"width": 661, "height": 188,
        "encoding": {
          "x": {"field": "e", "type": "quantitative", "scale": {"type": "log", "domain": [0.00397, 17.6], "nice": false}, "axis": null},
          "y": {"field": "y", "type": "quantitative", "scale": {"domain": [-4.02, 3.08], "nice": false, "zero": false}, "axis": null}
        },
        "layer": [
          {"data": {"name": "yR"}, "mark": {"type": "rule", "color": "#ffff00", "strokeWidth": 2, "clip": true},
           "encoding": {
             "x": {"field": "e", "type": "quantitative", "scale": {"type": "log", "domain": [0.00397, 17.6], "nice": false},
                   "axis": {"orient": "bottom", "values": [0.004,0.005,0.006,0.007,0.008,0.009,0.01,0.02,0.03,0.04,0.05,0.06,0.07,0.08,0.09,0.1,0.2,0.3,0.4,0.5,0.6,0.7,0.8,0.9,1,2,3,4,5,6,7,8,9,10],
                            "labelExpr": "abs(log(datum.value)/LN10 - round(log(datum.value)/LN10)) < 0.001 ? format(datum.value, '~g') : ''",
                            "tickSize": {"condition": {"test": "abs(log(datum.value)/LN10 - round(log(datum.value)/LN10)) < 0.001", "value": -14}, "value": -7},
                            "labelPadding": 48, "labelBaseline": "alphabetic",
                            "title": "Energy (keV)", "titleFontSize": 31, "titleX": 321, "titleY": 70, "titleAlign": "center", "titleBaseline": "alphabetic"}},
             "y": {"field": "y", "type": "quantitative", "scale": {"domain": [-4.02, 3.08], "nice": false, "zero": false},
                   "axis": {"orient": "left", "values": [-4,-3,-2,-1,0,1,2,3],
                            "labelExpr": "datum.value % 2 == 0 ? datum.label : ''",
                            "tickSize": {"condition": {"test": "datum.value % 2 == 0", "value": -14}, "value": -7},
                            "labelPadding": 42, "labelBaseline": "middle",
                            "title": "χ", "titleFontSize": 38, "titleAngle": 270, "titleX": -132, "titleY": 94, "titleAlign": "center", "titleBaseline": "middle"}},
             "y2": {"field": "y2"}
           }},
          {"data": {"name": "cR"}, "mark": {"type": "rule", "color": "#00e8ff", "strokeWidth": 2, "clip": true}, "encoding": {"y2": {"field": "y2"}}},
          {"data": {"name": "kR"}, "mark": {"type": "rule", "color": "#000000", "strokeWidth": 2, "clip": true}, "encoding": {"y2": {"field": "y2"}}},
          {"data": {"name": "gR"}, "mark": {"type": "area", "color": "#80ff00", "clip": true}, "encoding": {"y2": {"field": "y2"}}},
          {"data": {"name": "hR"}, "mark": {"type": "rule", "strokeWidth": 2, "clip": true},
           "encoding": {"y2": {"field": "y2"}, "color": {"field": "s", "type": "nominal", "legend": null, "scale": {"domain": ["T","O","M","B"], "range": ["#3ee6a6","#ff8a30","#ff00ff","#1a1aee"]}}}},
          {"data": {"name": "uvR"}, "mark": {"type": "rule", "strokeWidth": 1.5, "clip": true},
           "encoding": {"y2": {"field": "y2"}, "color": {"field": "s", "type": "nominal", "legend": null, "scale": {"domain": ["U1","U2"], "range": ["#3d8ee8","#707070"]}}}},
          {"data": {"name": "uvRc"}, "mark": {"type": "rule", "strokeWidth": 1.5, "clip": true},
           "encoding": {"x2": {"field": "e2"}, "color": {"field": "s", "type": "nominal", "legend": null, "scale": {"domain": ["U1","U2"], "range": ["#3d8ee8","#707070"]}}}},
          {"data": {"name": "z"}, "mark": {"type": "line", "color": "#66ee66", "strokeWidth": 2, "clip": true},
           "encoding": {
             "x": {"field": "e", "type": "quantitative", "scale": {"type": "log", "domain": [0.00397, 17.6], "nice": false},
                   "axis": {"orient": "top", "values": [0.004,0.005,0.006,0.007,0.008,0.009,0.01,0.02,0.03,0.04,0.05,0.06,0.07,0.08,0.09,0.1,0.2,0.3,0.4,0.5,0.6,0.7,0.8,0.9,1,2,3,4,5,6,7,8,9,10], "labels": false, "title": null,
                            "tickSize": {"condition": {"test": "abs(log(datum.value)/LN10 - round(log(datum.value)/LN10)) < 0.001", "value": -14}, "value": -7}}},
             "y": {"field": "y", "type": "quantitative", "scale": {"domain": [-4.02, 3.08], "nice": false, "zero": false},
                   "axis": {"orient": "right", "values": [-4,-3,-2,-1,0,1,2,3], "labels": false, "title": null,
                            "tickSize": {"condition": {"test": "datum.value % 2 == 0", "value": -14}, "value": -7}}}
           }}
        ],
        "resolve": {"axis": {"x": "independent", "y": "independent"}, "scale": {"color": "independent"}}
       }
     ], "spacing": 0, "bounds": "flush"}
   ], "spacing": 0, "bounds": "flush"}
 ], "spacing": 4, "bounds": "flush"}
], "spacing": 0, "bounds": "flush",
"config": {
  "view": {"stroke": "#111111", "strokeWidth": 2},
  "axis": {"domain": false, "grid": false, "tickColor": "#111111", "tickWidth": 1.5, "labelFont": "Liberation Serif", "titleFont": "Liberation Serif", "labelColor": "#1a1a1a", "titleColor": "#1a1a1a", "titleFontWeight": "normal", "labelFontSize": 28, "titleFontSize": 31, "labelOverlap": false, "labelFlush": false, "labelBound": false}
}
}
